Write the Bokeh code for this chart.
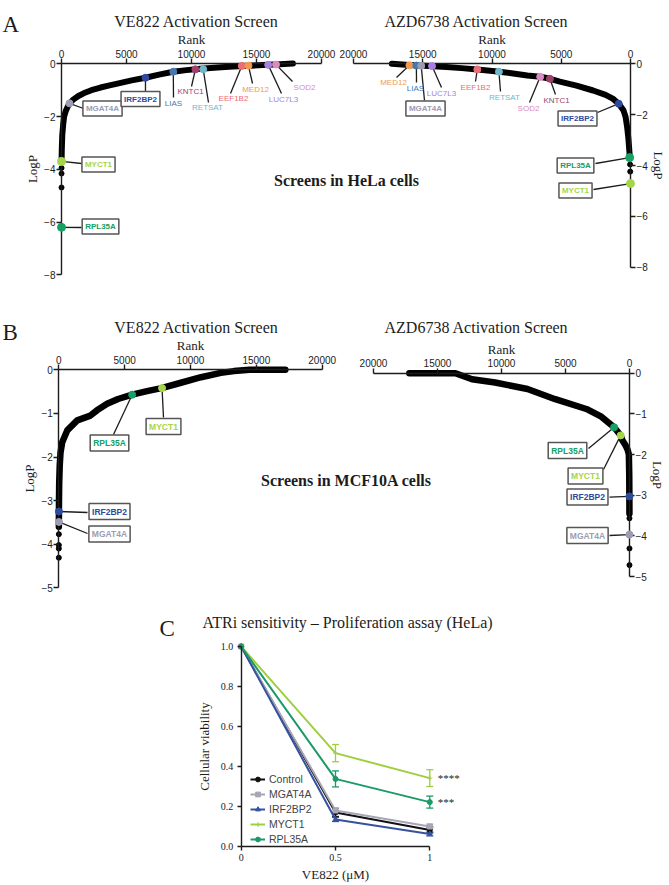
from bokeh.plotting import figure
from bokeh.models import (Range1d, LinearAxis, FixedTicker, Label, Legend, LegendItem,
                          ColumnDataSource, Whisker, TeeHead, NumeralTickFormatter)
from bokeh.embed import file_html
from bokeh.resources import INLINE

SERIF = "Liberation Serif"
SANS = "Liberation Sans"
INK = "#1c1c1c"

# ------------------------------------------------------------------ data
RANK_TICKS = [0, 5000, 10000, 15000, 20000]
LOGP_TICKS_A = [0, -2, -4, -6, -8]
LOGP_TICKS_B = [0, -1, -2, -3, -4, -5]

# Panel A (HeLa) - VE822 activation screen
HELA_VE_CURVE_RANK = [8, 25, 60, 130, 200, 320, 450, 615, 900, 1300, 1700, 2300, 3000, 3700,
                      4300, 5400, 6460, 7500, 8600, 9600, 10700, 12000, 13200, 14500, 15850,
                      16800, 17800]
HELA_VE_CURVE_LOGP = [-3.62, -3.2, -2.7, -2.3, -2.0, -1.8, -1.65, -1.5, -1.36, -1.22, -1.12,
                      -1.0, -0.9, -0.82, -0.75, -0.63, -0.53, -0.41, -0.3, -0.24, -0.19, -0.14,
                      -0.1, -0.07, -0.04, -0.02, 0.01]
HELA_VE_TAIL_RANK = [2, 3, 4]
HELA_VE_TAIL_LOGP = [-4.69, -4.16, -3.95]
HELA_VE_GENES = ["MGAT4A", "IRF2BP2", "LIAS", "KNTC1", "RETSAT", "EEF1B2", "MED12", "LUC7L3",
                 "SOD2", "MYCT1", "RPL35A"]
HELA_VE_GENE_RANK = [615, 6460, 8600, 10300, 10900, 13870, 14380, 15900, 16500, 6, 1]
HELA_VE_GENE_LOGP = [-1.5, -0.53, -0.3, -0.21, -0.21, -0.08, -0.07, -0.04, -0.03, -3.7, -6.2]

# Panel A (HeLa) - AZD6738 activation screen
HELA_AZD_CURVE_RANK = [17230, 16000, 14540, 13300, 12200, 11050, 9790, 8600, 7450, 6520, 5800,
                       5100, 3900, 2700, 1800, 1280, 850, 500, 350, 240, 160, 100, 60]
HELA_AZD_CURVE_LOGP = [0.0, -0.05, -0.09, -0.13, -0.17, -0.22, -0.29, -0.37, -0.46, -0.51,
                       -0.59, -0.7, -0.86, -1.05, -1.22, -1.37, -1.57, -1.84, -2.1, -2.5, -2.9,
                       -3.3, -3.6]
HELA_AZD_TAIL_RANK = [20, 30]
HELA_AZD_TAIL_LOGP = [-4.24, -3.96]
HELA_AZD_GENES = ["MED12", "LIAS", "MGAT4A", "LUC7L3", "EEF1B2", "RETSAT", "SOD2", "KNTC1",
                  "IRF2BP2", "RPL35A", "MYCT1"]
HELA_AZD_GENE_RANK = [15960, 15460, 15110, 14330, 11060, 9500, 6520, 5820, 850, 60, 1]
HELA_AZD_GENE_LOGP = [-0.06, -0.07, -0.08, -0.09, -0.22, -0.31, -0.51, -0.59, -1.57, -3.69, -4.71]

# Panel B (MCF10A) - VE822 activation screen
MCF_VE_CURVE_RANK = [5, 8, 15, 30, 70, 130, 260, 640, 1400, 2400, 2900, 3670, 4500, 5570, 6700,
                     7800, 9000, 10800, 12300, 13300, 14500, 17200]
MCF_VE_CURVE_LOGP = [-3.6, -3.3, -3.0, -2.6, -2.2, -1.9, -1.66, -1.39, -1.16, -1.05, -0.93,
                     -0.78, -0.67, -0.57, -0.49, -0.42, -0.32, -0.17, -0.07, -0.03, 0.0, 0.0]
MCF_VE_TAIL_RANK = [1, 2, 3, 4]
MCF_VE_TAIL_LOGP = [-4.31, -4.1, -4.02, -3.77]
MCF_VE_GENES = ["RPL35A", "MYCT1", "IRF2BP2", "MGAT4A"]
MCF_VE_GENE_RANK = [5570, 7840, 9, 6]
MCF_VE_GENE_LOGP = [-0.57, -0.42, -3.25, -3.49]

# Panel B (MCF10A) - AZD6738 activation screen
MCF_AZD_CURVE_RANK = [17200, 15500, 13600, 12300, 10500, 7970, 5800, 3370, 2200, 1200, 690, 560,
                      300, 150, 50, 20, 10, 5]
MCF_AZD_CURVE_LOGP = [0.0, 0.0, 0.0, -0.15, -0.23, -0.39, -0.64, -0.88, -1.07, -1.33, -1.53,
                      -1.65, -1.78, -1.88, -2.0, -2.5, -3.0, -3.45]
MCF_AZD_TAIL_RANK = [1, 2, 4]
MCF_AZD_TAIL_LOGP = [-4.72, -4.31, -3.57]
MCF_AZD_GENES = ["RPL35A", "MYCT1", "IRF2BP2", "MGAT4A"]
MCF_AZD_GENE_RANK = [1200, 690, 9, 3]
MCF_AZD_GENE_LOGP = [-1.33, -1.53, -3.03, -3.97]

# Panel C - proliferation assay
C_DOSE = [0, 0.5, 1]
C_NAMES = ["Control", "MGAT4A", "IRF2BP2", "MYCT1", "RPL35A"]
C_CONTROL = [1.0, 0.17, 0.083]
C_CONTROL_ERR = [0, 0.02, 0.015]
C_MGAT4A = [1.0, 0.18, 0.10]
C_MGAT4A_ERR = [0, 0.012, 0.012]
C_IRF2BP2 = [1.0, 0.135, 0.063]
C_IRF2BP2_ERR = [0, 0.01, 0.01]
C_MYCT1 = [1.0, 0.467, 0.342]
C_MYCT1_ERR = [0, 0.043, 0.042]
C_RPL35A = [1.0, 0.338, 0.222]
C_RPL35A_ERR = [0, 0.04, 0.03]
C_SIGNIF = {"MYCT1": "****", "RPL35A": "***"}

# ------------------------------------------------------------------ styles
GENE_COLORS = {
    "MGAT4A": "#9c9cb2", "IRF2BP2": "#2e4a9c", "LIAS": "#4678ad", "KNTC1": "#a23e6b",
    "RETSAT": "#6fb7c9", "EEF1B2": "#ea6d78", "MED12": "#f19a4f", "LUC7L3": "#a77fe0",
    "SOD2": "#d98bc2", "MYCT1": "#a5d64a", "RPL35A": "#15a064",
}
C_STYLE = {
    "Control": ("#111111", "circle"), "MGAT4A": ("#a6a6b6", "square"),
    "IRF2BP2": ("#3552a0", "triangle"), "MYCT1": ("#9fcf3f", "cross"),
    "RPL35A": ("#1a9a68", "circle"),
}

# ------------------------------------------------------------------ layout (page px)
CW, CH = 668, 884
PX0, PY0 = 0, 0
DX = {"A1": 0, "A2": -5, "B1": 0, "B2": -5}
FRAMES = {
    "A1": {"x": (0, 61.0, 20000, 321.0), "y": (0, 63.3, -8, 274.3)},
    "A2": {"x": (0, 635.0 + DX["A2"], 20000, 353.0), "y": (0, 63.3, -8, 266.7)},
    "B1": {"x": (0, 58.3, 20000, 321.7), "y": (0, 369.3, -5, 587.3)},
    "B2": {"x": (0, 634.0 + DX["B2"], 20000, 373.0), "y": (0, 372.7, -5, 576.0)},
    "C": {"x": (0, 240.7, 1, 429.3), "y": (0, 846.0, 1, 646.0)},
}

# label centre x, y, boxed, leader end x, y
LABELS = {
    "A1": {"MGAT4A": (102, 108, True, 83, 108), "IRF2BP2": (140, 98.5, True, 145, 92),
           "LIAS": (173, 102.5, False, 173, 97), "KNTC1": (190, 91, False, 191, 86),
           "RETSAT": (207, 107, False, 208, 102), "EEF1B2": (233, 98, False, 230, 93),
           "MED12": (255, 88.5, False, 252, 83), "LUC7L3": (283, 98.5, False, 281, 93),
           "SOD2": (304, 86.5, False, 292, 81), "MYCT1": (98, 164, True, 81, 163),
           "RPL35A": (100, 226, True, 81, 227)},
    "A2": {"MED12": (398, 82, False, 401, 77), "LIAS": (420, 88, False, 421, 82),
           "MGAT4A": (430, 108, True, 429, 100), "LUC7L3": (446, 93, False, 446, 87),
           "EEF1B2": (480, 87, False, 480, 81), "RETSAT": (509, 97, False, 505, 91),
           "SOD2": (533, 108, False, 534, 102), "KNTC1": (561, 100, False, 560, 94),
           "IRF2BP2": (582, 118, True, 602, 112), "RPL35A": (580, 165, True, 600, 163),
           "MYCT1": (580, 190, True, 598, 189)},
    "B1": {"RPL35A": (109, 442.5, True, 113, 434), "MYCT1": (163, 426, True, 163, 417),
           "IRF2BP2": (109, 511, True, 87, 512), "MGAT4A": (109, 533.5, True, 87, 533)},
    "B2": {"RPL35A": (572, 450, True, 593, 448), "MYCT1": (590, 475.5, True, 608, 469),
           "IRF2BP2": (592, 496.5, True, 614, 496.7), "MGAT4A": (592, 535, True, 614, 535)},
}


def _rng(cal, lo, hi):
    v0, p0, v1, p1 = cal
    s = (v1 - v0) / (p1 - p0)
    return Range1d(start=v0 + (lo - p0) * s, end=v0 + (hi - p0) * s)


def to_px(cal, v):
    v0, p0, v1, p1 = cal
    return p0 + (v - v0) * (p1 - p0) / (v1 - v0)


p = figure(width=CW, height=CH, x_range=Range1d(PX0, PX0 + CW), y_range=Range1d(PY0 + CH, PY0),
           x_axis_location=None, y_axis_location=None, toolbar_location=None,
           output_backend="svg", min_border=0, title=None)
p.outline_line_color = None
p.xgrid.visible = False
p.ygrid.visible = False
p.extra_x_ranges = {k + "x": _rng(f["x"], PX0, PX0 + CW) for k, f in FRAMES.items()}
p.extra_y_ranges = {k + "y": _rng(f["y"], PY0 + CH, PY0) for k, f in FRAMES.items()}


def style_axis(ax, font, size, tick_out=5):
    ax.axis_line_color = INK
    ax.axis_line_width = 1.4
    ax.major_tick_line_color = INK
    ax.major_tick_line_width = 1.4
    ax.major_tick_out = tick_out
    ax.major_tick_in = 0
    ax.minor_tick_line_color = None
    ax.major_label_text_font = font
    ax.major_label_text_font_size = size
    ax.major_label_text_color = INK
    ax.axis_label_text_font = SERIF
    ax.axis_label_text_font_style = "normal"
    ax.axis_label_text_color = INK
    ax.axis_label_text_font_size = "13px"


def text(x, y, s, size, font=SERIF, style="normal", align="center", baseline="middle"):
    p.add_layout(Label(x=x, y=y, text=s, text_font=font, text_font_size=size,
                       text_font_style=style, text_align=align, text_baseline=baseline,
                       text_color=INK))


def screen_panel(key, c_rank, c_logp, t_rank, t_logp, genes, g_rank, g_logp, yticks, yside,
                 lw, box_font, box_pad):
    xn, yn = key + "x", key + "y"
    fr = FRAMES[key]
    dx = DX[key]
    p.line(c_rank, c_logp, x_range_name=xn, y_range_name=yn, line_color="black",
           line_width=lw, line_cap="round", line_join="round")
    p.scatter(t_rank, t_logp, x_range_name=xn, y_range_name=yn, size=5, color="black")
    # leader lines (from the dot to its label)
    x0, y0, x1, y1 = [], [], [], []
    for g, r, v in zip(genes, g_rank, g_logp):
        lay = LABELS[key][g]
        x0.append(to_px(fr["x"], r))
        y0.append(to_px(fr["y"], v))
        x1.append(lay[3] + dx)
        y1.append(lay[4])
    p.segment(x0, y0, x1, y1, line_color=INK, line_width=1.3)
    sizes = [8 if (key.startswith("A") and g in ("MYCT1", "RPL35A")) else 7 for g in genes]
    p.scatter(g_rank, g_logp, x_range_name=xn, y_range_name=yn, size=sizes,
              color=[GENE_COLORS[g] for g in genes], level="annotation")
    for g in genes:
        cx, cy, boxed, _, _ = LABELS[key][g]
        if boxed:
            lab = Label(x=cx + dx, y=cy, text=g, text_align="center", text_baseline="middle",
                        text_font=SANS, text_font_size=box_font, text_font_style="bold",
                        text_color=GENE_COLORS[g], border_line_color="#555555",
                        border_line_width=1.5, background_fill_color="white", padding=box_pad)
        else:
            lab = Label(x=cx + dx, y=cy, text=g, text_align="center", text_baseline="middle",
                        text_font=SANS, text_font_size="8px", text_color=GENE_COLORS[g])
        p.add_layout(lab)
    xa = LinearAxis(x_range_name=xn, y_range_name=yn, fixed_location=0, bounds=(0, 20000),
                    ticker=FixedTicker(ticks=RANK_TICKS), axis_label="Rank",
                    major_label_standoff=1, axis_label_standoff=0)
    style_axis(xa, SANS, "10px")
    p.add_layout(xa, "above")
    ya = LinearAxis(x_range_name=xn, y_range_name=yn, fixed_location=0,
                    bounds=(min(yticks), 0), ticker=FixedTicker(ticks=yticks),
                    axis_label="LogP", major_label_standoff=1,
                    axis_label_standoff=1 if yside == "left" else 0)
    style_axis(ya, SANS, "10px")
    p.add_layout(ya, yside)


screen_panel("A1", HELA_VE_CURVE_RANK, HELA_VE_CURVE_LOGP, HELA_VE_TAIL_RANK, HELA_VE_TAIL_LOGP,
             HELA_VE_GENES, HELA_VE_GENE_RANK, HELA_VE_GENE_LOGP, LOGP_TICKS_A, "left", 6,
             "8px", 3)
screen_panel("A2", HELA_AZD_CURVE_RANK, HELA_AZD_CURVE_LOGP, HELA_AZD_TAIL_RANK,
             HELA_AZD_TAIL_LOGP, HELA_AZD_GENES, HELA_AZD_GENE_RANK, HELA_AZD_GENE_LOGP,
             LOGP_TICKS_A, "right", 6, "8px", 3)
screen_panel("B1", MCF_VE_CURVE_RANK, MCF_VE_CURVE_LOGP, MCF_VE_TAIL_RANK, MCF_VE_TAIL_LOGP,
             MCF_VE_GENES, MCF_VE_GENE_RANK, MCF_VE_GENE_LOGP, LOGP_TICKS_B, "left", 6.5,
             "8.5px", 3)
screen_panel("B2", MCF_AZD_CURVE_RANK, MCF_AZD_CURVE_LOGP, MCF_AZD_TAIL_RANK, MCF_AZD_TAIL_LOGP,
             MCF_AZD_GENES, MCF_AZD_GENE_RANK, MCF_AZD_GENE_LOGP, LOGP_TICKS_B, "right", 6.5,
             "8.5px", 3)

# panel texts
text(2, 23.5, "A", "23px", align="left", baseline="alphabetic")
text(2, 332, "B", "23px", align="left", baseline="alphabetic")
text(159, 628, "C", "23px", align="left", baseline="alphabetic")
text(196, 21, "VE822 Activation Screen", "16px")
text(476, 21, "AZD6738 Activation Screen", "16px")
text(196, 327, "VE822 Activation Screen", "16px")
text(476, 327, "AZD6738 Activation Screen", "16px")
text(346, 180, "Screens in HeLa cells", "16px", style="bold")
text(346, 480, "Screens in MCF10A cells", "16px", style="bold")
text(347, 622, "ATRi sensitivity \u2013 Proliferation assay (HeLa)", "16px")

# ------------------------------------------------------------------ panel C
C_VALUES = {"Control": (C_CONTROL, C_CONTROL_ERR), "MGAT4A": (C_MGAT4A, C_MGAT4A_ERR),
            "IRF2BP2": (C_IRF2BP2, C_IRF2BP2_ERR), "MYCT1": (C_MYCT1, C_MYCT1_ERR),
            "RPL35A": (C_RPL35A, C_RPL35A_ERR)}
items = []
for name in C_NAMES:
    vals, err = C_VALUES[name]
    color, marker = C_STYLE[name]
    src = ColumnDataSource(dict(
        x=[d for d, e in zip(C_DOSE, err) if e > 0],
        upper=[v + e for v, e in zip(vals, err) if e > 0],
        lower=[v - e for v, e in zip(vals, err) if e > 0]))
    p.add_layout(Whisker(source=src, base="x", upper="upper", lower="lower",
                         x_range_name="Cx", y_range_name="Cy", line_color=color, line_width=1.3,
                         upper_head=TeeHead(size=7, line_color=color, line_width=1.3),
                         lower_head=TeeHead(size=7, line_color=color, line_width=1.3)))
    lr = p.line(C_DOSE, vals, x_range_name="Cx", y_range_name="Cy", line_color=color,
                line_width=2)
    sr = p.scatter(C_DOSE, vals, x_range_name="Cx", y_range_name="Cy", marker=marker,
                   size=5, color=color)
    items.append(LegendItem(label=name, renderers=[lr, sr]))
    if name in C_SIGNIF:
        p.add_layout(Label(x=C_DOSE[-1], y=vals[-1], x_range_name="Cx", y_range_name="Cy",
                           x_offset=8, text=C_SIGNIF[name], text_font=SERIF,
                           text_font_size="11px", text_baseline="middle", text_color=INK))

legend = Legend(items=items, location=(250, CH - 845), orientation="vertical", glyph_width=15,
                glyph_height=12, label_height=12, spacing=3, padding=0, margin=0,
                label_standoff=4, label_text_font=SANS, label_text_font_size="10.5px",
                border_line_color=None, background_fill_alpha=0)
p.add_layout(legend)

cy_ax = LinearAxis(x_range_name="Cx", y_range_name="Cy", fixed_location=0, bounds=(0, 1),
                   ticker=FixedTicker(ticks=[0, 0.2, 0.4, 0.6, 0.8, 1.0]),
                   formatter=NumeralTickFormatter(format="0.0"),
                   axis_label="Cellular viability", major_label_standoff=4,
                   axis_label_standoff=6)
style_axis(cy_ax, SERIF, "10px", tick_out=4)
p.add_layout(cy_ax, "left")
cx_ax = LinearAxis(x_range_name="Cx", y_range_name="Cy", fixed_location=0, bounds=(0, 1),
                   ticker=FixedTicker(ticks=C_DOSE),
                   major_label_overrides={0: "0", 0.5: "0.5", 1: "1"},
                   axis_label="VE822 (\u03bcM)", major_label_standoff=3, axis_label_standoff=3)
style_axis(cx_ax, SERIF, "10px", tick_out=4)
p.add_layout(cx_ax, "below")

open("out.html", "w").write(file_html(p, INLINE))
